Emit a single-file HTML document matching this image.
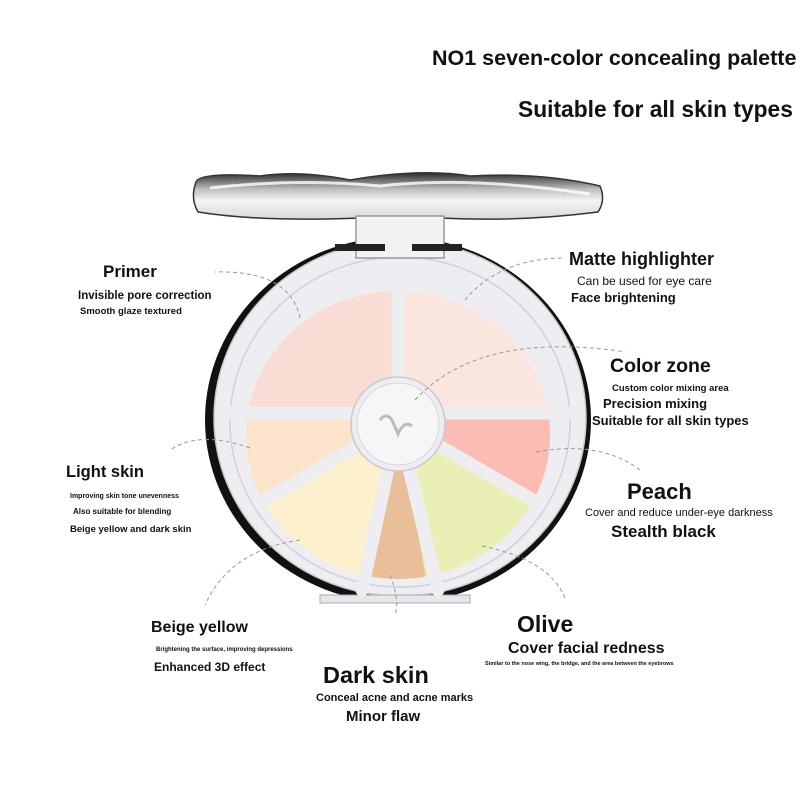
<!DOCTYPE html>
<html><head><meta charset="utf-8"><style>
html,body{margin:0;padding:0;background:#fff;}
svg{display:block}
text{font-family:"Liberation Sans",Arial,sans-serif;fill:#111;font-weight:bold}
</style></head><body>
<svg width="800" height="800" viewBox="0 0 800 800" xmlns="http://www.w3.org/2000/svg">
<defs>
<linearGradient id="lid" x1="0" y1="0" x2="0" y2="1">
<stop offset="0" stop-color="#2a2a2a"/><stop offset="0.35" stop-color="#bdbdc2"/><stop offset="0.6" stop-color="#f4f4f6"/><stop offset="1" stop-color="#d8d8de"/></linearGradient>
<clipPath id="pan"><ellipse cx="398" cy="435" rx="155" ry="147"/></clipPath>
</defs>
<path d="M196,182 Q200,172 260,176 Q300,170 350,180 Q420,168 470,176 Q540,172 600,186 Q606,200 598,212 Q520,222 440,218 L360,218 Q260,222 198,212 Q190,198 196,182 Z" fill="url(#lid)" stroke="#333" stroke-width="1.5"/>
<path d="M210,188 Q300,178 380,186 Q470,176 590,194" stroke="#fff" stroke-width="3" fill="none" opacity="0.8"/>
<ellipse cx="398" cy="420" rx="193" ry="183" fill="#111"/>
<ellipse cx="400" cy="418" rx="186" ry="178" fill="#eeeef2" stroke="#c8c8d0" stroke-width="1.5"/>
<ellipse cx="400" cy="422" rx="170" ry="165" fill="none" stroke="#d0d0d8" stroke-width="1.5"/>
<rect x="356" y="216" width="88" height="42" fill="#f2f2f5" stroke="#999" stroke-width="1.5"/>
<rect x="335" y="244" width="50" height="7" fill="#222"/><rect x="412" y="244" width="50" height="7" fill="#222"/>
<rect x="320" y="595" width="150" height="8" fill="#e8e8ec" stroke="#aaa"/>
<g clip-path="url(#pan)">
<rect x="230" y="260" width="168" height="155" fill="#f9dcd3"/>
<rect x="398" y="260" width="170" height="155" fill="#fbe6df"/>
<path d="M398,422 L230,410 L230,600 Z" fill="#fbe3cc"/>
<path d="M398,422 L230,520 L230,600 L380,600 Z" fill="#fdf0cc"/>
<path d="M398,422 L360,600 L440,600 Z" fill="#e9bf9a"/>
<path d="M398,422 L430,600 L568,600 L568,520 Z" fill="#eaf0b5"/>
<path d="M398,422 L568,410 L568,520 Z" fill="#fbbcb4"/>
</g>
<g stroke="#eeeef2" stroke-width="13" stroke-linecap="round">
<line x1="230" y1="413" x2="568" y2="413"/>
<line x1="398" y1="270" x2="398" y2="413"/>
<line x1="398" y1="422" x2="262" y2="502"/>
<line x1="398" y1="422" x2="362" y2="590"/>
<line x1="398" y1="422" x2="438" y2="590"/>
<line x1="398" y1="422" x2="536" y2="502"/>
</g>
<ellipse cx="398" cy="435" rx="155" ry="147" fill="none" stroke="#eeeef2" stroke-width="6"/>
<circle cx="398" cy="424" r="47" fill="#eeeef2" stroke="#c8c8d0" stroke-width="1.5"/>
<circle cx="398" cy="424" r="41" fill="#f6f6f8" stroke="#d5d5dc"/>
<path d="M380,420 q6,-8 12,0 l6,14 q6,-14 14,-8" fill="none" stroke="#bbb" stroke-width="3"/>
<g fill="none" stroke="#999" stroke-width="1" stroke-dasharray="4,3">
<path d="M300,318 Q290,270 215,272"/>
<path d="M465,300 Q500,258 565,258"/>
<path d="M415,400 Q480,330 625,352"/>
<path d="M536,452 Q600,440 640,470"/>
<path d="M250,448 Q200,430 170,450"/>
<path d="M300,540 Q230,550 205,605"/>
<path d="M390,575 Q400,600 395,615"/>
<path d="M482,546 Q550,560 565,598"/>
</g>
<text x="432" y="65" font-size="21.5">NO1 seven-color concealing palette</text>
<text x="518" y="117" font-size="22.8">Suitable for all skin types</text>
<text x="103" y="277" font-size="17">Primer</text>
<text x="78" y="299" font-size="11.5">Invisible pore correction</text>
<text x="80" y="314" font-size="9.5">Smooth glaze textured</text>
<text x="569" y="265" font-size="18">Matte highlighter</text>
<text x="577" y="285" font-size="12" style="font-weight:normal">Can be used for eye care</text>
<text x="571" y="302" font-size="13">Face brightening</text>
<text x="610" y="372" font-size="19.5">Color zone</text>
<text x="612" y="391" font-size="9.5">Custom color mixing area</text>
<text x="603" y="408" font-size="13">Precision mixing</text>
<text x="592" y="425" font-size="13">Suitable for all skin types</text>
<text x="66" y="477" font-size="16.5">Light skin</text>
<text x="70" y="498" font-size="7">Improving skin tone unevenness</text>
<text x="73" y="514" font-size="8">Also suitable for blending</text>
<text x="70" y="532" font-size="9.5">Beige yellow and dark skin</text>
<text x="627" y="499" font-size="22">Peach</text>
<text x="585" y="516" font-size="11" style="font-weight:normal">Cover and reduce under-eye darkness</text>
<text x="611" y="537" font-size="17">Stealth black</text>
<text x="151" y="632" font-size="16">Beige yellow</text>
<text x="156" y="651" font-size="6">Brightening the surface, improving depressions</text>
<text x="154" y="671" font-size="12">Enhanced 3D effect</text>
<text x="517" y="632" font-size="23">Olive</text>
<text x="508" y="653" font-size="16">Cover facial redness</text>
<text x="485" y="665" font-size="5.5">Similar to the nose wing, the bridge, and the area between the eyebrows</text>
<text x="323" y="683" font-size="23.5">Dark skin</text>
<text x="316" y="701" font-size="11">Conceal acne and acne marks</text>
<text x="346" y="721" font-size="15">Minor flaw</text>
</svg>
</body></html>
